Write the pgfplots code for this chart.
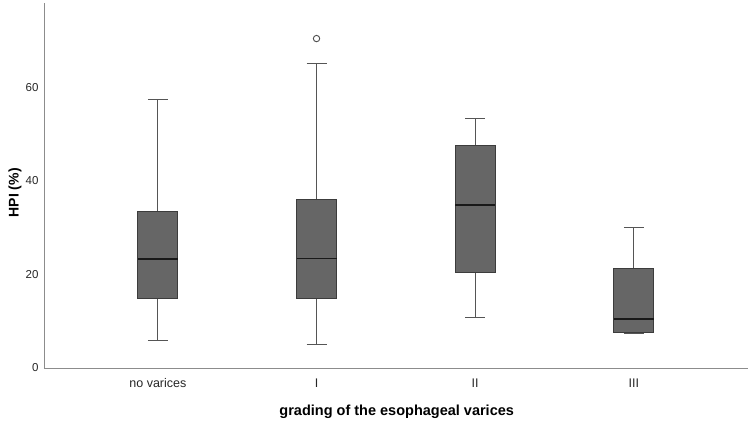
\documentclass[border=0pt]{standalone}
\usepackage{pgfplots}
\pgfplotsset{compat=1.18}
\usepackage{fontspec}
\setmainfont{Liberation Sans}
\definecolor{boxfill}{RGB}{102,102,102}
\definecolor{boxedge}{RGB}{60,60,60}
\definecolor{whisk}{RGB}{85,85,85}
\definecolor{axisgray}{RGB}{140,140,140}
\pgfplotsset{
  boxs/.style={fill=boxfill, draw=boxedge, line width=0.9pt, mark=none},
  whs/.style={draw=whisk, line width=1.1pt, mark=none},
  meds/.style={draw=black!90, line width=1.9pt, mark=none},
}
\begin{document}
\begin{tikzpicture}
\begin{axis}[at={(0pt,0pt)}, anchor=south west, scale only axis,
  width=704pt, height=365pt,
  xmin=-0.718, xmax=3.72, ymin=0, ymax=78,
  axis lines=left, axis line style={draw=axisgray, -, line width=0.9pt},
  xtick={0,1,2,3}, xticklabels={no varices, I, II, III},
  ytick={0,20,40,60}, major tick length=0pt,
  /pgf/number format/assume math mode=true,
  yticklabel style={font=\fontsize{11.5}{13}\selectfont, color=black!85, xshift=-2pt},
  xticklabel style={font=\fontsize{12.5}{14}\selectfont, color=black!85, yshift=-7pt},
  xlabel={grading of the esophageal varices},
  ylabel={HPI (\%)},
  every axis x label/.style={at={(axis description cs:0.501,0)}, anchor=center, yshift=-44pt, font=\bfseries\fontsize{14.5}{16}\selectfont},
  every axis y label/.style={at={(axis description cs:0,0.48)}, anchor=center, rotate=90, yshift=29pt, font=\bfseries\fontsize{14}{16}\selectfont},
  clip=false,
]
% ---- no varices (x=0): lw 5.9, q1 14.8, med 23.3, q3 33.4, uw 57.3
\addplot[whs] coordinates {(0,33.4) (0,57.3)};
\addplot[whs] coordinates {(-0.063,57.3) (0.063,57.3)};
\addplot[whs] coordinates {(0,14.8) (0,5.9)};
\addplot[whs] coordinates {(-0.063,5.9) (0.063,5.9)};
\addplot[boxs] coordinates {(-0.126,14.8) (0.126,14.8) (0.126,33.4) (-0.126,33.4)} --cycle;
\addplot[meds] coordinates {(-0.126,23.3) (0.126,23.3)};
% ---- I (x=1): lw 5.1, q1 14.8, med 23.4, q3 36.1, uw 65.1, outlier 70.4
\addplot[whs] coordinates {(1,36.1) (1,65.1)};
\addplot[whs] coordinates {(0.937,65.1) (1.063,65.1)};
\addplot[whs] coordinates {(1,14.8) (1,5.1)};
\addplot[whs] coordinates {(0.937,5.1) (1.063,5.1)};
\addplot[boxs] coordinates {(0.874,14.8) (1.126,14.8) (1.126,36.1) (0.874,36.1)} --cycle;
\addplot[meds] coordinates {(0.874,23.4) (1.126,23.4)};
\addplot[only marks, mark=o, mark size=3.2pt, mark options={draw=black!70, line width=0.9pt}] coordinates {(1,70.4)};
% ---- II (x=2): lw 10.8, q1 20.5, med 34.9, q3 47.6, uw 53.4
\addplot[whs] coordinates {(2,47.6) (2,53.4)};
\addplot[whs] coordinates {(1.937,53.4) (2.063,53.4)};
\addplot[whs] coordinates {(2,20.5) (2,10.8)};
\addplot[whs] coordinates {(1.937,10.8) (2.063,10.8)};
\addplot[boxs] coordinates {(1.874,20.5) (2.126,20.5) (2.126,47.6) (1.874,47.6)} --cycle;
\addplot[meds] coordinates {(1.874,34.9) (2.126,34.9)};
% ---- III (x=3): lw 7.55, q1 7.7, med 10.4, q3 21.3, uw 30.1
\addplot[whs] coordinates {(3,21.3) (3,30.1)};
\addplot[whs] coordinates {(2.937,30.1) (3.063,30.1)};
\addplot[whs] coordinates {(2.937,7.45) (3.063,7.45)};
\addplot[boxs] coordinates {(2.874,7.7) (3.126,7.7) (3.126,21.3) (2.874,21.3)} --cycle;
\addplot[meds] coordinates {(2.874,10.4) (3.126,10.4)};
\end{axis}
\pgfresetboundingbox
\path[use as bounding box] (-44pt,-55pt) rectangle (705pt,368pt);
\end{tikzpicture}
\end{document}
